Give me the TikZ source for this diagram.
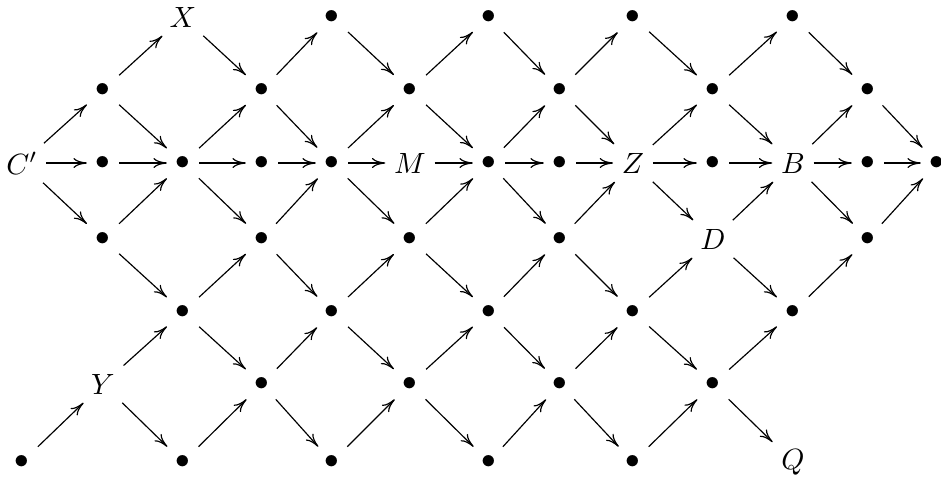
\documentclass[tikz,border=0pt]{standalone}
\usepackage{amsmath,amssymb}
\usepackage{tikz}
\usetikzlibrary{arrows.meta}

\begin{document}
\begin{tikzpicture}[
  ob/.style={inner sep=3pt,outer sep=0pt},
  arr/.style={-{Computer Modern Rightarrow[length=4.6pt,width=3.4pt]},line width=0.4pt}]
  \useasboundingbox (0,0) rectangle (11.292,5.724);
  % top row
  \node[ob] (a2) at (2.196,5.52) {$X$};
  \node[ob] (a4) at (3.984,5.52) {$\bullet$};
  \node[ob] (a6) at (5.868,5.52) {$\bullet$};
  \node[ob] (a8) at (7.596,5.52) {$\bullet$};
  \node[ob] (a10) at (9.516,5.52) {$\bullet$};
  \node[ob] (b1) at (1.236,4.644) {$\bullet$};
  \node[ob] (b3) at (3.144,4.644) {$\bullet$};
  \node[ob] (b5) at (4.92,4.644) {$\bullet$};
  \node[ob] (b7) at (6.72,4.644) {$\bullet$};
  \node[ob] (b9) at (8.556,4.644) {$\bullet$};
  \node[ob] (b11) at (10.416,4.644) {$\bullet$};
  % middle row
  \node[ob] (c0) at (0.264,3.768) {$C'$};
  \node[ob] (c1) at (1.236,3.768) {$\bullet$};
  \node[ob] (c2) at (2.196,3.768) {$\bullet$};
  \node[ob] (c3) at (3.144,3.768) {$\bullet$};
  \node[ob] (c4) at (3.984,3.768) {$\bullet$};
  \node[ob] (c5) at (4.92,3.768) {$M$};
  \node[ob] (c6) at (5.868,3.768) {$\bullet$};
  \node[ob] (c7) at (6.72,3.768) {$\bullet$};
  \node[ob] (c8) at (7.596,3.768) {$Z$};
  \node[ob] (c9) at (8.556,3.768) {$\bullet$};
  \node[ob] (c10) at (9.516,3.768) {$B$};
  \node[ob] (c11) at (10.416,3.768) {$\bullet$};
  \node[ob] (c12) at (11.244,3.768) {$\bullet$};
  % lower rows
  \node[ob] (d1) at (1.236,2.856) {$\bullet$};
  \node[ob] (d3) at (3.144,2.856) {$\bullet$};
  \node[ob] (d5) at (4.92,2.856) {$\bullet$};
  \node[ob] (d7) at (6.72,2.856) {$\bullet$};
  \node[ob] (d9) at (8.556,2.856) {$D$};
  \node[ob] (d11) at (10.416,2.856) {$\bullet$};
  \node[ob] (e2) at (2.196,1.98) {$\bullet$};
  \node[ob] (e4) at (3.984,1.98) {$\bullet$};
  \node[ob] (e6) at (5.868,1.98) {$\bullet$};
  \node[ob] (e8) at (7.596,1.98) {$\bullet$};
  \node[ob] (e10) at (9.516,1.98) {$\bullet$};
  \node[ob] (f1) at (1.236,1.116) {$Y$};
  \node[ob] (f3) at (3.144,1.116) {$\bullet$};
  \node[ob] (f5) at (4.92,1.116) {$\bullet$};
  \node[ob] (f7) at (6.72,1.116) {$\bullet$};
  \node[ob] (f9) at (8.556,1.116) {$\bullet$};
  \node[ob] (g0) at (0.264,0.18) {$\bullet$};
  \node[ob] (g2) at (2.196,0.18) {$\bullet$};
  \node[ob] (g4) at (3.984,0.18) {$\bullet$};
  \node[ob] (g6) at (5.868,0.18) {$\bullet$};
  \node[ob] (g8) at (7.596,0.18) {$\bullet$};
  \node[ob] (g10) at (9.516,0.18) {$Q$};
  % horizontal arrows
  \draw[arr] (c0) -- (c1);
  \draw[arr] (c1) -- (c2);
  \draw[arr] (c2) -- (c3);
  \draw[arr] (c3) -- (c4);
  \draw[arr] (c4) -- (c5);
  \draw[arr] (c5) -- (c6);
  \draw[arr] (c6) -- (c7);
  \draw[arr] (c7) -- (c8);
  \draw[arr] (c8) -- (c9);
  \draw[arr] (c9) -- (c10);
  \draw[arr] (c10) -- (c11);
  \draw[arr] (c11) -- (c12);
  % upper half
  \draw[arr] (c0) -- (b1);
  \draw[arr] (b1) -- (a2);
  \draw[arr] (b1) -- (c2);
  \draw[arr] (a2) -- (b3);
  \draw[arr] (c2) -- (b3);
  \draw[arr] (b3) -- (a4);
  \draw[arr] (b3) -- (c4);
  \draw[arr] (a4) -- (b5);
  \draw[arr] (c4) -- (b5);
  \draw[arr] (b5) -- (a6);
  \draw[arr] (b5) -- (c6);
  \draw[arr] (a6) -- (b7);
  \draw[arr] (c6) -- (b7);
  \draw[arr] (b7) -- (a8);
  \draw[arr] (b7) -- (c8);
  \draw[arr] (a8) -- (b9);
  \draw[arr] (c8) -- (b9);
  \draw[arr] (b9) -- (a10);
  \draw[arr] (b9) -- (c10);
  \draw[arr] (a10) -- (b11);
  \draw[arr] (c10) -- (b11);
  \draw[arr] (b11) -- (c12);
  % lower half
  \draw[arr] (c0) -- (d1);
  \draw[arr] (d1) -- (c2);
  \draw[arr] (d1) -- (e2);
  \draw[arr] (c2) -- (d3);
  \draw[arr] (e2) -- (d3);
  \draw[arr] (d3) -- (c4);
  \draw[arr] (d3) -- (e4);
  \draw[arr] (c4) -- (d5);
  \draw[arr] (e4) -- (d5);
  \draw[arr] (d5) -- (c6);
  \draw[arr] (d5) -- (e6);
  \draw[arr] (c6) -- (d7);
  \draw[arr] (e6) -- (d7);
  \draw[arr] (d7) -- (c8);
  \draw[arr] (d7) -- (e8);
  \draw[arr] (c8) -- (d9);
  \draw[arr] (e8) -- (d9);
  \draw[arr] (d9) -- (c10);
  \draw[arr] (d9) -- (e10);
  \draw[arr] (c10) -- (d11);
  \draw[arr] (e10) -- (d11);
  \draw[arr] (d11) -- (c12);
  % bottom
  \draw[arr] (f1) -- (e2);
  \draw[arr] (e2) -- (f3);
  \draw[arr] (f3) -- (e4);
  \draw[arr] (e4) -- (f5);
  \draw[arr] (f5) -- (e6);
  \draw[arr] (e6) -- (f7);
  \draw[arr] (f7) -- (e8);
  \draw[arr] (e8) -- (f9);
  \draw[arr] (f9) -- (e10);
  \draw[arr] (g0) -- (f1);
  \draw[arr] (f1) -- (g2);
  \draw[arr] (g2) -- (f3);
  \draw[arr] (f3) -- (g4);
  \draw[arr] (g4) -- (f5);
  \draw[arr] (f5) -- (g6);
  \draw[arr] (g6) -- (f7);
  \draw[arr] (f7) -- (g8);
  \draw[arr] (g8) -- (f9);
  \draw[arr] (f9) -- (g10);
\end{tikzpicture}
\end{document}
